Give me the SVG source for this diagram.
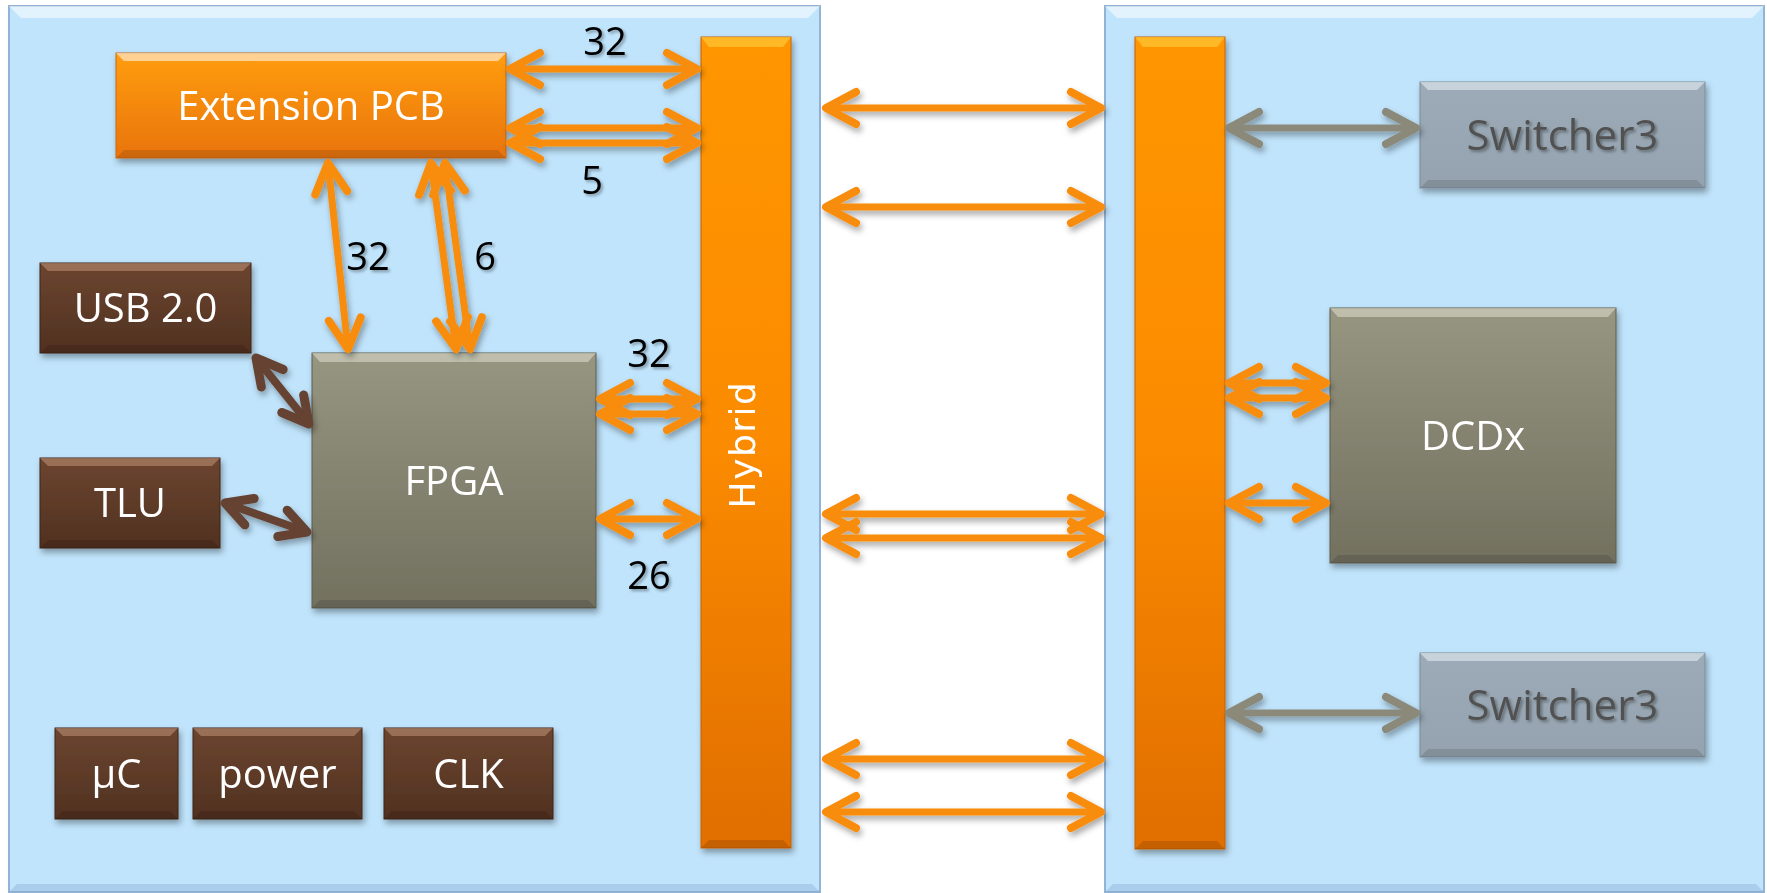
<svg xmlns="http://www.w3.org/2000/svg" width="1767" height="893" viewBox="0 0 1767 893">
<defs>
<style>
.panel{fill:#c0e4fc;stroke:#93b3d6;stroke-width:2}
.hl{fill:#ffffff;opacity:0.55}
.bt{fill:#000000;opacity:0.12}
.ntext{font-family:"Open Sans","Liberation Sans",sans-serif;font-size:40px;fill:#ffffff;text-anchor:middle}
.stext{font-family:"Open Sans","Liberation Sans",sans-serif;font-size:42px;fill:#515151;text-anchor:middle}
.lbl{font-family:"Open Sans","Liberation Sans",sans-serif;font-size:38px;fill:#000000;text-anchor:middle}
.ao{stroke:#f88c0c;stroke-width:7;fill:none}
.ag{stroke:#8b897a;stroke-width:7;fill:none}
.ab{stroke:#654330;stroke-width:8;fill:none}
</style>
<linearGradient id="gOr" x1="0" y1="0" x2="0" y2="1"><stop offset="0" stop-color="#ff9d12"/><stop offset="1" stop-color="#e9740a"/></linearGradient>
<linearGradient id="gBar" x1="0" y1="0" x2="0" y2="1"><stop offset="0" stop-color="#ff9606"/><stop offset="0.5" stop-color="#fb8b04"/><stop offset="1" stop-color="#e06e02"/></linearGradient>
<linearGradient id="gBr" x1="0" y1="0" x2="0" y2="1"><stop offset="0" stop-color="#6c4530"/><stop offset="1" stop-color="#503120"/></linearGradient>
<linearGradient id="gGr" x1="0" y1="0" x2="0" y2="1"><stop offset="0" stop-color="#979681"/><stop offset="1" stop-color="#72705f"/></linearGradient>
<linearGradient id="gSw" x1="0" y1="0" x2="0" y2="1"><stop offset="0" stop-color="#9cabb7"/><stop offset="1" stop-color="#94a3af"/></linearGradient>
<filter id="sh" x="-20%" y="-20%" width="140%" height="140%"><feDropShadow dx="2" dy="4" stdDeviation="3" flood-color="#000" flood-opacity="0.35"/></filter>
<filter id="tsh" x="-20%" y="-20%" width="140%" height="140%"><feDropShadow dx="2" dy="2" stdDeviation="1.5" flood-color="#000" flood-opacity="0.35"/></filter>
<marker id="mo" markerUnits="userSpaceOnUse" viewBox="-40 -22 50 44" refX="0" refY="0" markerWidth="50" markerHeight="44" orient="auto-start-reverse" overflow="visible"><path d="M-30,-16 L0,0 L-30,16" fill="none" stroke="#f88c0c" stroke-width="8" stroke-linecap="round" stroke-linejoin="round"/></marker>
<marker id="mg" markerUnits="userSpaceOnUse" viewBox="-40 -22 50 44" refX="0" refY="0" markerWidth="50" markerHeight="44" orient="auto-start-reverse" overflow="visible"><path d="M-30,-16 L0,0 L-30,16" fill="none" stroke="#8b897a" stroke-width="8" stroke-linecap="round" stroke-linejoin="round"/></marker>
<marker id="mb" markerUnits="userSpaceOnUse" viewBox="-40 -22 50 44" refX="0" refY="0" markerWidth="50" markerHeight="44" orient="auto-start-reverse" overflow="visible"><path d="M-26,-14 L0,0 L-26,14" fill="none" stroke="#654330" stroke-width="9" stroke-linecap="round" stroke-linejoin="round"/></marker>
</defs>
<rect width="1767" height="893" fill="#ffffff"/>

<g id="panel-left">
<rect class="panel" x="9" y="6" width="811" height="886"/>
<polygon class="hl" points="9,6 820,6 808,18 21,18"/>
<polygon fill="#7fa3cc" opacity="0.35" points="9,892 820,892 812,884 17,884"/>
</g>
<g id="panel-right">
<rect class="panel" x="1105" y="6" width="659" height="886"/>
<polygon class="hl" points="1105,6 1764,6 1752,18 1117,18"/>
<polygon fill="#7fa3cc" opacity="0.35" points="1105,892 1764,892 1756,884 1113,884"/>
</g>

<g id="extension-pcb" filter="url(#sh)">
<rect x="116" y="53" width="390" height="105" fill="url(#gOr)" stroke="#c86a10" stroke-width="1"/>
<polygon class="hl" opacity="0.4" points="116,53 506,53 498,61 124,61"/>
<polygon class="bt" points="116,158 506,158 498,150 124,150"/>
<text class="ntext" x="311" y="120">Extension PCB</text>
</g>

<g id="hybrid" filter="url(#sh)">
<rect x="701" y="37" width="90" height="811" fill="url(#gBar)" stroke="#c86000" stroke-width="1"/>
<polygon fill="#ffd040" opacity="0.6" points="701,37 791,37 783,47 709,47"/>
<polygon class="bt" points="701,848 791,848 783,840 709,840"/>
<text transform="translate(755,444.5) rotate(-90)" x="0" y="0" font-family="'DejaVu Sans',Verdana,sans-serif" font-size="36" letter-spacing="1.5" fill="#ffffff" text-anchor="middle">Hybrid</text>
</g>

<g id="right-bar" filter="url(#sh)">
<rect x="1135" y="37" width="90" height="812" fill="url(#gBar)" stroke="#c86000" stroke-width="1"/>
<polygon fill="#ffd040" opacity="0.6" points="1135,37 1225,37 1217,47 1143,47"/>
<polygon class="bt" points="1135,849 1225,849 1217,841 1143,841"/>
</g>

<g id="usb" filter="url(#sh)">
<rect x="40" y="263" width="211" height="90" fill="url(#gBr)" stroke="#3e2616" stroke-width="1"/>
<polygon fill="#c89a80" opacity="0.5" points="40,263 251,263 243,271 48,271"/>
<polygon class="bt" points="40,353 251,353 243,345 48,345"/>
<text class="ntext" x="145.5" y="322">USB 2.0</text>
</g>

<g id="tlu" filter="url(#sh)">
<rect x="40" y="458" width="180" height="90" fill="url(#gBr)" stroke="#3e2616" stroke-width="1"/>
<polygon fill="#c89a80" opacity="0.5" points="40,458 220,458 212,466 48,466"/>
<polygon class="bt" points="40,548 220,548 212,540 48,540"/>
<text class="ntext" x="130" y="517">TLU</text>
</g>

<g id="fpga" filter="url(#sh)">
<rect x="312" y="353" width="284" height="255" fill="url(#gGr)" stroke="#5e5c4e" stroke-width="1"/>
<polygon fill="#e8e8d8" opacity="0.5" points="312,353 596,353 588,362 320,362"/>
<polygon class="bt" points="312,608 596,608 588,600 320,600"/>
<text class="ntext" x="454" y="495">FPGA</text>
</g>

<g id="uc" filter="url(#sh)">
<rect x="55" y="728" width="123" height="91" fill="url(#gBr)" stroke="#3e2616" stroke-width="1"/>
<polygon fill="#c89a80" opacity="0.5" points="55,728 178,728 170,736 63,736"/>
<polygon class="bt" points="55,819 178,819 170,811 63,811"/>
<text class="ntext" x="116.5" y="788">µC</text>
</g>

<g id="power" filter="url(#sh)">
<rect x="193" y="728" width="169" height="91" fill="url(#gBr)" stroke="#3e2616" stroke-width="1"/>
<polygon fill="#c89a80" opacity="0.5" points="193,728 362,728 354,736 201,736"/>
<polygon class="bt" points="193,819 362,819 354,811 201,811"/>
<text class="ntext" x="277.5" y="788">power</text>
</g>

<g id="clk" filter="url(#sh)">
<rect x="384" y="728" width="169" height="91" fill="url(#gBr)" stroke="#3e2616" stroke-width="1"/>
<polygon fill="#c89a80" opacity="0.5" points="384,728 553,728 545,736 392,736"/>
<polygon class="bt" points="384,819 553,819 545,811 392,811"/>
<text class="ntext" x="468.5" y="788">CLK</text>
</g>

<g id="switcher3-top" filter="url(#sh)">
<rect x="1420" y="82" width="285" height="106" fill="url(#gSw)" stroke="#7d8c98" stroke-width="1"/>
<polygon fill="#e4ecf2" opacity="0.6" points="1420,82 1705,82 1697,90 1428,90"/>
<polygon class="bt" points="1420,188 1705,188 1697,180 1428,180"/>
<text class="stext" x="1562.5" y="150" filter="url(#tsh)">Switcher3</text>
</g>

<g id="switcher3-bottom" filter="url(#sh)">
<rect x="1420" y="653" width="285" height="104" fill="url(#gSw)" stroke="#7d8c98" stroke-width="1"/>
<polygon fill="#e4ecf2" opacity="0.6" points="1420,653 1705,653 1697,661 1428,661"/>
<polygon class="bt" points="1420,757 1705,757 1697,749 1428,749"/>
<text class="stext" x="1562.5" y="720" filter="url(#tsh)">Switcher3</text>
</g>

<g id="dcdx" filter="url(#sh)">
<rect x="1330" y="308" width="286" height="255" fill="url(#gGr)" stroke="#5e5c4e" stroke-width="1"/>
<polygon fill="#e8e8d8" opacity="0.5" points="1330,308 1616,308 1608,317 1338,317"/>
<polygon class="bt" points="1330,563 1616,563 1608,555 1338,555"/>
<text class="ntext" x="1473" y="450">DCDx</text>
</g>

<g id="connectors" filter="url(#sh)">
<line class="ao" x1="510" y1="69" x2="697" y2="69" marker-start="url(#mo)" marker-end="url(#mo)"/>
<line class="ao" x1="510" y1="128" x2="697" y2="128" marker-start="url(#mo)" marker-end="url(#mo)"/>
<line class="ao" x1="510" y1="143" x2="697" y2="143" marker-start="url(#mo)" marker-end="url(#mo)"/>
<line class="ao" x1="328" y1="163" x2="348" y2="349" marker-start="url(#mo)" marker-end="url(#mo)"/>
<line class="ao" x1="431" y1="163" x2="456" y2="349" marker-start="url(#mo)" marker-end="url(#mo)"/>
<line class="ao" x1="445" y1="163" x2="470" y2="349" marker-start="url(#mo)" marker-end="url(#mo)"/>
<line class="ao" x1="600" y1="399" x2="697" y2="399" marker-start="url(#mo)" marker-end="url(#mo)"/>
<line class="ao" x1="600" y1="414" x2="697" y2="414" marker-start="url(#mo)" marker-end="url(#mo)"/>
<line class="ao" x1="600" y1="519" x2="697" y2="519" marker-start="url(#mo)" marker-end="url(#mo)"/>
<line class="ao" x1="826" y1="108" x2="1101" y2="108" marker-start="url(#mo)" marker-end="url(#mo)"/>
<line class="ao" x1="826" y1="207" x2="1101" y2="207" marker-start="url(#mo)" marker-end="url(#mo)"/>
<line class="ao" x1="826" y1="514" x2="1101" y2="514" marker-start="url(#mo)" marker-end="url(#mo)"/>
<line class="ao" x1="826" y1="538" x2="1101" y2="538" marker-start="url(#mo)" marker-end="url(#mo)"/>
<line class="ao" x1="826" y1="759" x2="1101" y2="759" marker-start="url(#mo)" marker-end="url(#mo)"/>
<line class="ao" x1="826" y1="812" x2="1101" y2="812" marker-start="url(#mo)" marker-end="url(#mo)"/>
<line class="ao" x1="1229" y1="383" x2="1326" y2="383" marker-start="url(#mo)" marker-end="url(#mo)"/>
<line class="ao" x1="1229" y1="398" x2="1326" y2="398" marker-start="url(#mo)" marker-end="url(#mo)"/>
<line class="ao" x1="1229" y1="503" x2="1326" y2="503" marker-start="url(#mo)" marker-end="url(#mo)"/>
<line class="ag" x1="1229" y1="128" x2="1416" y2="128" marker-start="url(#mg)" marker-end="url(#mg)"/>
<line class="ag" x1="1229" y1="713" x2="1416" y2="713" marker-start="url(#mg)" marker-end="url(#mg)"/>
<line class="ab" x1="256" y1="358" x2="309" y2="424" marker-start="url(#mb)" marker-end="url(#mb)"/>
<line class="ab" x1="225" y1="503" x2="307" y2="532" marker-start="url(#mb)" marker-end="url(#mb)"/>
</g>

<g id="labels" filter="url(#tsh)">
<text class="lbl" x="605" y="55">32</text>
<text class="lbl" x="592" y="194">5</text>
<text class="lbl" x="368" y="270">32</text>
<text class="lbl" x="485" y="270">6</text>
<text class="lbl" x="649" y="367">32</text>
<text class="lbl" x="649" y="589">26</text>
</g>
</svg>
